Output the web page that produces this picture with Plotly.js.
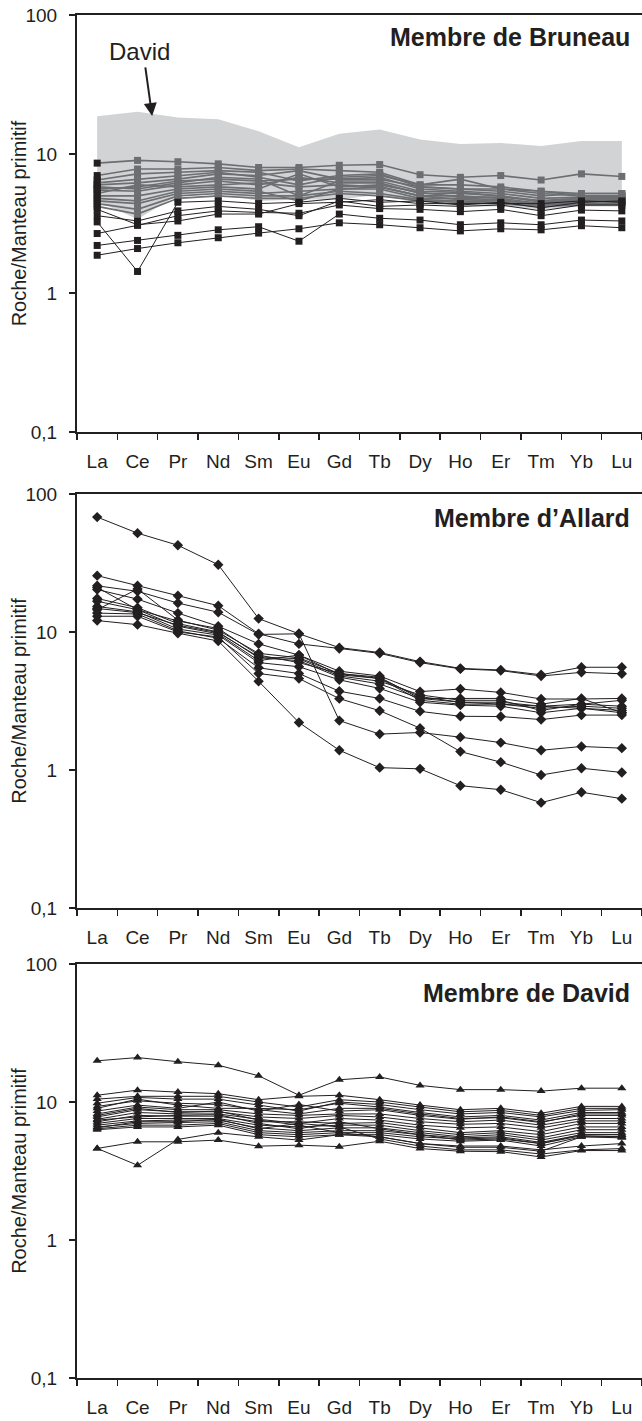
<!DOCTYPE html>
<html>
<head>
<meta charset="utf-8">
<script src="https://cdn.plot.ly/plotly-3.0.1.min.js"></script>
<style>html,body{margin:0;padding:0;background:#fff}#chart{width:642px;height:1421px}</style>
</head>
<body>
<div id="chart"></div>
<script>
const elements = ["La","Ce","Pr","Nd","Sm","Eu","Gd","Tb","Dy","Ho","Er","Tm","Yb","Lu"];
const yTickVals = [0.1, 1, 10, 100];
const yTickText = ["0,1", "1", "10", "100"];
const yTitle = "Roche/Manteau primitif";
const panelTitles = ["Membre de Bruneau", "Membre d\u2019Allard", "Membre de David"];
const arrowLabel = "David";

// Envelope of the David member shown in the Bruneau panel
const davidBandUpper = [18.7, 20.1, 18.3, 17.8, 14.6, 11.2, 14.0, 15.0, 12.7, 11.8, 12.0, 11.4, 12.4, 12.4];
const davidBandLower = [4.6, 3.4, 5.1, 5.2, 4.6, 4.7, 4.7, 5.1, 4.5, 4.2, 4.2, 4.0, 4.2, 4.2];

// Membre de Bruneau — grey series
const bruneauGrey = [
  [8.6, 9.0, 8.8, 8.5, 8.0, 8.0, 8.3, 8.4, 7.1, 6.8, 7.0, 6.5, 7.2, 6.9],
  [7.0, 7.8, 7.8, 8.0, 7.6, 7.8, 7.6, 7.4, 6.0, 6.6, 5.6, 5.4, 5.0, 5.0],
  [6.5, 7.2, 7.4, 7.6, 7.4, 6.4, 7.0, 7.2, 5.8, 5.6, 5.4, 5.0, 5.2, 5.2],
  [6.0, 6.2, 6.6, 7.2, 7.0, 7.6, 6.6, 6.8, 5.6, 5.4, 5.2, 4.8, 4.9, 5.0],
  [5.8, 5.6, 6.2, 6.8, 6.6, 5.0, 6.4, 6.4, 5.4, 5.3, 5.0, 4.6, 4.8, 4.8],
  [5.5, 5.4, 6.0, 6.4, 6.0, 6.8, 6.2, 6.2, 5.2, 5.2, 5.0, 4.5, 4.7, 4.7],
  [5.2, 6.0, 5.8, 6.0, 6.2, 5.8, 6.0, 5.8, 5.0, 5.0, 4.8, 4.4, 4.6, 4.6],
  [5.0, 5.0, 5.6, 5.8, 5.6, 7.2, 5.8, 6.0, 5.3, 4.9, 4.9, 4.6, 4.8, 4.9],
  [4.8, 4.6, 5.4, 5.6, 5.4, 4.6, 5.6, 5.6, 4.8, 4.8, 4.7, 4.3, 4.5, 4.6],
  [4.6, 4.4, 5.2, 5.4, 5.2, 5.4, 5.6, 5.8, 5.0, 4.7, 4.6, 4.4, 4.6, 4.5],
  [4.4, 4.0, 5.0, 5.2, 5.0, 5.0, 5.4, 5.2, 4.7, 4.6, 4.5, 4.3, 4.4, 4.4],
  [4.2, 3.7, 4.8, 5.0, 4.8, 4.8, 5.2, 5.0, 4.6, 4.5, 4.4, 4.2, 4.3, 4.3],
  [6.2, 6.6, 7.0, 7.4, 6.8, 6.0, 6.8, 7.0, 6.0, 6.0, 5.8, 5.4, 5.2, 5.2],
  [5.6, 5.8, 6.4, 6.6, 6.4, 6.6, 6.6, 6.6, 5.8, 5.6, 5.6, 5.2, 5.0, 5.0]
];
// Membre de Bruneau — black series
const bruneauBlack = [
  [1.87, 2.09, 2.3, 2.5, 2.7, 2.9, 3.2, 3.1, 2.95, 2.8, 2.9, 2.85, 3.05, 2.95],
  [2.2, 2.39, 2.6, 2.85, 3.0, 2.36, 3.7, 3.45, 3.35, 3.1, 3.2, 3.1, 3.35, 3.3],
  [2.68, 3.07, 3.6, 3.9, 3.8, 3.75, 4.3, 4.05, 4.0, 3.85, 4.0, 3.6, 3.95, 3.9],
  [3.25, 1.43, 4.5, 4.6, 4.4, 4.5, 4.8, 4.5, 4.6, 4.3, 4.5, 4.1, 4.5, 4.6],
  [3.6, 3.3, 3.9, 4.2, 4.0, 3.6, 4.6, 4.2, 4.3, 4.2, 4.3, 3.9, 4.3, 4.3],
  [4.0, 3.1, 3.3, 3.7, 3.7, 4.4, 4.5, 4.7, 4.4, 4.4, 4.4, 4.4, 4.6, 4.5]
];
// Membre d'Allard
const allard = [
  [68, 52, 42.5, 30.7, 12.5, 9.7, 7.7, 7.1, 6.1, 5.45, 5.3, 4.9, 5.55, 5.55],
  [25.6, 21.6, 18.3, 15.5, 9.7, 8.2, 7.6, 7.0, 6.0, 5.4, 5.25, 4.8, 5.1, 4.98],
  [21.6, 19.7, 16.2, 13.9, 9.6, 9.7, 2.28, 1.82, 1.87, 1.73, 1.58, 1.39, 1.48, 1.44],
  [20.3, 17.3, 13.7, 11.0, 8.2, 6.8, 5.2, 4.8, 3.7, 3.86, 3.65, 3.27, 3.27, 3.3],
  [14.5, 20.5, 12.2, 10.3, 7.0, 6.5, 5.0, 4.6, 3.4, 3.1, 3.1, 2.9, 3.0, 2.9],
  [17.5, 15.0, 11.5, 10.0, 6.5, 6.2, 4.7, 4.2, 3.3, 3.1, 3.0, 2.8, 2.9, 2.8],
  [16.7, 14.5, 11.0, 9.7, 6.2, 6.8, 4.9, 4.6, 3.2, 3.0, 3.0, 2.9, 2.8, 2.6],
  [15.3, 14.0, 10.5, 9.5, 6.0, 5.6, 4.5, 3.9, 3.1, 2.95, 2.9, 2.6, 2.8, 2.7],
  [13.7, 13.5, 10.2, 9.0, 5.5, 5.0, 3.72, 3.3, 2.66, 2.45, 2.44, 2.32, 2.5, 2.5],
  [13.0, 13.0, 10.0, 9.2, 5.0, 4.6, 3.29, 2.69, 2.01, 1.36, 1.14, 0.92, 1.03, 0.96],
  [12.1, 11.3, 9.8, 8.6, 4.39, 2.21, 1.39, 1.04, 1.02, 0.77, 0.72, 0.58, 0.69, 0.62],
  [14.8, 13.8, 11.2, 9.9, 6.6, 6.4, 4.8, 4.4, 3.5, 3.2, 3.2, 2.7, 3.0, 3.2],
  [21.0, 14.5, 12.0, 10.6, 6.8, 6.0, 5.0, 4.7, 3.3, 3.3, 3.3, 3.0, 3.3, 2.6]
];
// Membre de David
const david = [
  [19.9, 21.0, 19.6, 18.5, 15.5, 11.2, 14.5, 15.2, 13.2, 12.3, 12.3, 12.0, 12.6, 12.6],
  [11.2, 12.2, 11.8, 11.5, 10.4, 11.0, 11.2, 10.4, 9.5, 8.8, 9.0, 8.3, 9.3, 9.3],
  [10.5, 11.0, 11.0, 11.0, 10.0, 9.2, 10.4, 10.0, 9.2, 8.5, 8.7, 8.0, 9.0, 9.0],
  [9.8, 10.8, 10.5, 10.5, 9.5, 8.6, 10.0, 9.6, 8.8, 8.2, 8.4, 7.8, 8.7, 8.8],
  [9.0, 10.5, 9.5, 9.0, 9.0, 8.8, 9.8, 9.2, 8.4, 7.8, 8.0, 7.4, 8.4, 8.4],
  [8.6, 9.5, 9.0, 10.0, 8.6, 9.6, 8.6, 8.8, 8.0, 7.5, 7.8, 7.2, 8.0, 8.0],
  [8.2, 9.2, 8.8, 8.8, 8.2, 8.0, 8.2, 8.2, 7.6, 7.2, 7.4, 6.8, 7.6, 7.6],
  [7.8, 8.8, 8.5, 8.5, 7.8, 7.6, 8.0, 7.8, 7.2, 6.9, 7.0, 6.5, 7.3, 7.3],
  [7.5, 8.4, 8.2, 8.2, 7.5, 7.0, 7.6, 7.4, 6.8, 6.5, 6.6, 6.1, 7.0, 7.0],
  [7.2, 8.0, 7.9, 7.9, 7.2, 7.2, 7.0, 7.1, 6.5, 6.0, 6.2, 5.8, 6.6, 6.6],
  [7.0, 7.6, 7.6, 7.6, 6.8, 6.6, 6.8, 6.8, 6.2, 5.8, 6.0, 5.5, 6.3, 6.3],
  [6.8, 7.3, 7.4, 7.4, 6.5, 6.2, 6.5, 6.5, 6.0, 5.6, 5.8, 5.3, 6.0, 6.0],
  [6.6, 7.0, 7.1, 7.2, 6.2, 6.0, 6.2, 6.2, 5.8, 5.5, 5.6, 5.1, 5.8, 5.8],
  [6.4, 6.8, 6.8, 7.0, 6.0, 5.8, 6.0, 6.0, 5.6, 5.4, 5.5, 5.0, 5.7, 5.6],
  [6.3, 6.6, 6.6, 6.8, 5.8, 5.6, 5.8, 5.8, 5.4, 5.2, 5.3, 4.8, 5.6, 5.5],
  [7.4, 7.8, 8.0, 8.1, 7.0, 6.4, 7.2, 6.4, 5.8, 5.3, 5.4, 5.0, 5.8, 5.8],
  [8.0, 9.0, 8.4, 8.6, 7.4, 6.8, 6.0, 5.6, 5.0, 4.7, 4.7, 4.4, 5.6, 5.6],
  [6.5, 7.2, 7.2, 7.5, 6.4, 7.0, 6.6, 5.4, 4.8, 4.5, 4.5, 4.2, 4.5, 4.6],
  [4.61, 3.48, 5.36, 5.99, 5.6, 5.3, 5.8, 5.6, 5.0, 4.8, 4.8, 4.5, 4.8, 5.0],
  [4.61, 5.15, 5.15, 5.3, 4.79, 4.87, 4.75, 5.2, 4.6, 4.4, 4.37, 4.0, 4.45, 4.45],
  [9.3, 10.2, 9.8, 9.6, 8.8, 8.2, 9.0, 9.0, 8.2, 7.6, 7.7, 7.1, 8.2, 8.2]
];

const BLACK = "#231f20";
const GREY = "#6d6e71";
const BAND = "#d1d3d4";
const FONT = "Liberation Sans, Arial, Helvetica, sans-serif";

const traces = [];
// David envelope band
traces.push({
  x: elements.concat(elements.slice().reverse()),
  y: davidBandUpper.concat(davidBandLower.slice().reverse()),
  xaxis: "x", yaxis: "y", type: "scatter", mode: "lines",
  fill: "toself", fillcolor: BAND, line: {width: 0, color: BAND},
  hoverinfo: "skip", showlegend: false
});
bruneauGrey.forEach(s => traces.push({
  x: elements, y: s, xaxis: "x", yaxis: "y", type: "scatter", mode: "lines+markers",
  line: {color: GREY, width: 1.6},
  marker: {symbol: "square", size: 7, color: elements.map((e, i) => i === 0 ? BLACK : GREY)},
  showlegend: false, cliponaxis: false
}));
bruneauBlack.forEach(s => traces.push({
  x: elements, y: s, xaxis: "x", yaxis: "y", type: "scatter", mode: "lines+markers",
  line: {color: BLACK, width: 1},
  marker: {symbol: "square", size: 7, color: BLACK},
  showlegend: false, cliponaxis: false
}));
allard.forEach(s => traces.push({
  x: elements, y: s, xaxis: "x2", yaxis: "y2", type: "scatter", mode: "lines+markers",
  line: {color: BLACK, width: 1},
  marker: {symbol: "diamond", size: 8, color: BLACK},
  showlegend: false, cliponaxis: false
}));
david.forEach(s => traces.push({
  x: elements, y: s, xaxis: "x3", yaxis: "y3", type: "scatter", mode: "lines+markers",
  line: {color: BLACK, width: 1},
  marker: {symbol: "triangle-up", size: 8, color: BLACK},
  showlegend: false, cliponaxis: false
}));

function xAxis(anchor) {
  return {
    anchor: anchor, type: "category", categoryorder: "array", categoryarray: elements,
    range: [-0.5, 13.5], showgrid: false, zeroline: false,
    showline: true, linecolor: BLACK, linewidth: 2, mirror: true,
    ticks: "outside", tickson: "boundaries", ticklen: 6, tickwidth: 1.5, tickcolor: BLACK,
    ticklabelstandoff: 11,
    tickfont: {family: FONT, size: 19, color: BLACK}, fixedrange: true
  };
}
function yAxis(anchor, domain) {
  return {
    anchor: anchor, domain: domain, type: "log", range: [-1, 2],
    tickvals: yTickVals, ticktext: yTickText,
    showgrid: false, zeroline: false, showline: true, linecolor: BLACK, linewidth: 2,
    ticks: "outside", ticklen: 6, tickwidth: 1.5, tickcolor: BLACK,
    ticklabelstandoff: 8,
    tickfont: {family: FONT, size: 19, color: BLACK}, fixedrange: true
  };
}

const domains = [[0.694, 1], [0.3448, 0.6486], [0, 0.3037]];
const annotations = [];
const yrefs = ["y", "y2", "y3"];
const xrefs = ["x", "x2", "x3"];
const titleY = [0.947, 0.942, 0.93];
for (let i = 0; i < 3; i++) {
  annotations.push({
    xref: xrefs[i] + " domain", yref: yrefs[i] + " domain", x: 0.982, y: titleY[i],
    xanchor: "right", yanchor: "middle", showarrow: false, text: "<b>" + panelTitles[i] + "</b>",
    font: {family: FONT, size: 25, color: BLACK}
  });
  annotations.push({
    xref: "paper", yref: yrefs[i] + " domain", x: -0.103, y: 0.5,
    xanchor: "center", yanchor: "middle", showarrow: false, textangle: -90, text: yTitle,
    font: {family: FONT, size: 20, color: BLACK}
  });
}
annotations.push({
  xref: "x domain", yref: "y domain", x: 0.111, y: 0.912, xanchor: "center", yanchor: "middle",
  showarrow: false, text: arrowLabel, font: {family: FONT, size: 24, color: BLACK}
});
annotations.push({
  xref: "x domain", yref: "y domain", x: 0.133, y: 0.758, text: "", showarrow: true,
  ax: -7, ay: -50, arrowhead: 2, arrowsize: 1.3, arrowwidth: 2, arrowcolor: BLACK
});

const layout = {
  width: 642, height: 1421,
  margin: {l: 77, r: 0, t: 15, b: 43},
  paper_bgcolor: "#ffffff", plot_bgcolor: "#ffffff",
  showlegend: false,
  xaxis: xAxis("y"), yaxis: yAxis("x", domains[0]),
  xaxis2: xAxis("y2"), yaxis2: yAxis("x2", domains[1]),
  xaxis3: xAxis("y3"), yaxis3: yAxis("x3", domains[2]),
  annotations: annotations,
  font: {family: FONT, color: BLACK}
};

Plotly.newPlot("chart", traces, layout, {staticPlot: true, displayModeBar: false});
</script>
</body>
</html>
